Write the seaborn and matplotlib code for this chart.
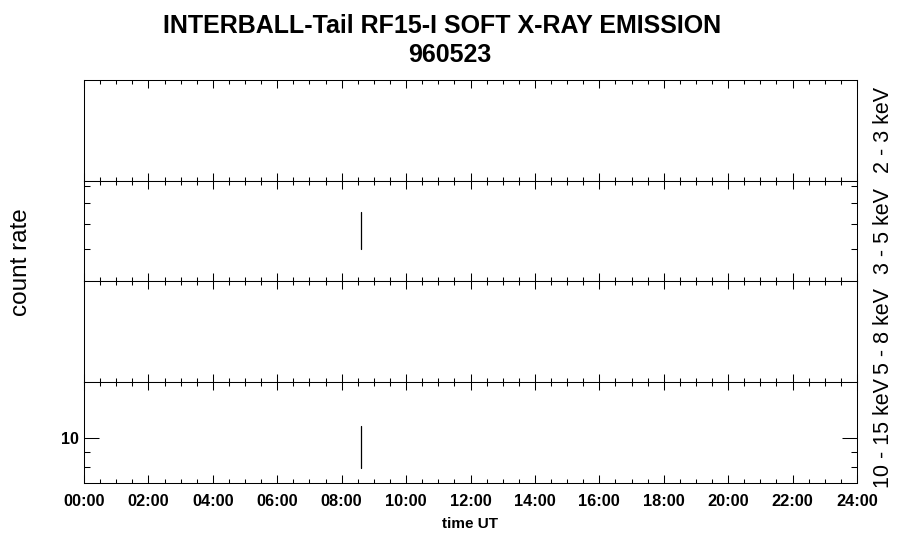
import matplotlib
matplotlib.use("Agg")
import matplotlib.pyplot as plt
from matplotlib.ticker import FixedLocator, NullLocator, NullFormatter, FixedFormatter
import numpy as np
import seaborn as sns

TITLE = "INTERBALL-Tail RF15-I SOFT X-RAY EMISSION"
DATE = "960523"
BANDS = ["2 - 3 keV", "3 - 5 keV", "5 - 8 keV", "10 - 15 keV"]

# time in hours UT and count rate for each energy band (empty = no counts)
TIME_2_3, RATE_2_3 = [], []
TIME_3_5, RATE_3_5 = [8.61, 8.61], [4.0, 5.55]
TIME_5_8, RATE_5_8 = [], []
TIME_10_15, RATE_10_15 = [8.61, 8.61], [7.97, 11.0]

# log y ranges
YLIM_3_5 = (3.03, 7.34)
YLIM_10_15 = (7.08, 15.4)
MINOR_3_5 = [4, 5, 6, 7]
MAJOR_10_15, MINOR_10_15 = [10], [8, 9]

X_TICKS = list(range(0, 25, 2))
X_LABELS = [f"{h:02d}:00" for h in X_TICKS]

sns.set_theme(style="ticks", rc={
    "axes.edgecolor": "black", "axes.linewidth": 0.75,
    "xtick.color": "black", "ytick.color": "black", "text.color": "black",
    "xtick.major.width": 0.75, "xtick.minor.width": 0.75,
    "ytick.major.width": 0.75, "ytick.minor.width": 0.75,
})
plt.rcParams["font.family"] = ["Liberation Sans", "DejaVu Sans"]

W, H = 900, 548
fig = plt.figure(figsize=(W / 100, H / 100), dpi=100)

LEFT, RIGHT = 84, 857
EDGES = [79.5, 180.5, 281, 382, 483]


def px_box(top, bottom):
    return [LEFT / W, 1 - bottom / H, (RIGHT - LEFT) / W, (bottom - top) / H]


series = [(TIME_2_3, RATE_2_3), (TIME_3_5, RATE_3_5),
          (TIME_5_8, RATE_5_8), (TIME_10_15, RATE_10_15)]
axes = []
for i, (t, r) in enumerate(series):
    ax = fig.add_axes(px_box(EDGES[i], EDGES[i + 1]))
    if t:
        sns.lineplot(x=t, y=r, estimator=None, sort=False, color="black",
                     linewidth=0.9, ax=ax)
    ax.set_xlim(0, 24)
    ax.set_xticks(X_TICKS)
    ax.xaxis.set_minor_locator(FixedLocator(np.arange(0, 24.01, 0.5)))
    ax.tick_params(axis="x", which="both", direction="in", top=True, bottom=True)
    ax.tick_params(axis="x", which="major", length=5.8)
    ax.tick_params(axis="x", which="minor", length=3.0)
    ax.tick_params(axis="y", which="both", direction="in", left=True, right=True)
    ax.tick_params(axis="y", which="major", length=10.8, pad=3.5)
    ax.tick_params(axis="y", which="minor", length=4.3)
    if i < 3:
        ax.set_xticklabels([])
    else:
        ax.set_xticklabels(X_LABELS, fontsize=11.8, fontweight="bold")
        ax.tick_params(axis="x", which="major", pad=8)
    ax.set_xlabel("")
    ax.set_ylabel("")
    axes.append(ax)

for ax in (axes[0], axes[2]):
    ax.yaxis.set_major_locator(NullLocator())
    ax.yaxis.set_minor_locator(NullLocator())

ax = axes[1]
ax.set_yscale("log")
ax.set_ylim(*YLIM_3_5)
ax.yaxis.set_major_locator(NullLocator())
ax.yaxis.set_minor_locator(FixedLocator(MINOR_3_5))
ax.yaxis.set_minor_formatter(NullFormatter())

ax = axes[3]
ax.set_yscale("log")
ax.set_ylim(*YLIM_10_15)
ax.yaxis.set_major_locator(FixedLocator(MAJOR_10_15))
ax.yaxis.set_major_formatter(FixedFormatter([str(v) for v in MAJOR_10_15]))
ax.yaxis.set_minor_locator(FixedLocator(MINOR_10_15))
ax.yaxis.set_minor_formatter(NullFormatter())
for lab in ax.get_yticklabels():
    lab.set_fontsize(11.5)
    lab.set_fontweight("bold")

fig.text(0.4917, 1 - 33.3 / H, TITLE, ha="center", va="baseline",
         fontsize=18, fontweight="bold")
fig.text(0.5, 1 - 61.7 / H, DATE, ha="center", va="baseline",
         fontsize=18, fontweight="bold")
fig.text((LEFT + RIGHT) / 2 / W, 1 - 528 / H, "time UT", ha="center",
         va="baseline", fontsize=11, fontweight="bold")
fig.text(26.7 / W, 1 - 262 / H, "count rate", rotation=90, rotation_mode="anchor",
         ha="center", va="baseline", fontsize=17.5)
for i, band in enumerate(BANDS):
    yc = (EDGES[i] + EDGES[i + 1]) / 2
    fig.text(889 / W, 1 - yc / H, band, rotation=90, rotation_mode="anchor",
             ha="center", va="baseline", fontsize=15.5)

fig.savefig("out.png", dpi=100, facecolor="white")
